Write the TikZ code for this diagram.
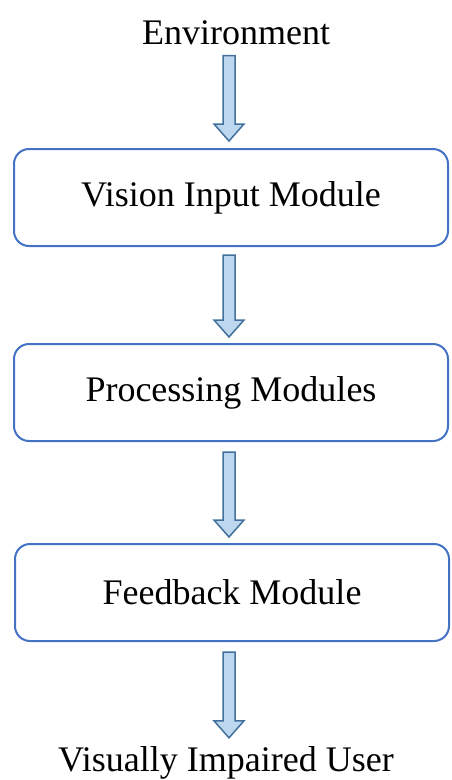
\documentclass[tikz,border=0pt]{standalone}
\usepackage{fontspec}
\setmainfont{Liberation Serif}
\usetikzlibrary{calc}

\definecolor{boxblue}{RGB}{68,114,196}
\definecolor{arrowfill}{RGB}{189,215,238}
\definecolor{arrowline}{RGB}{65,113,156}

% fat arrow going down from one node to the next: from, to, top gap, bottom gap
\newcommand{\blockarrow}[4]{%
	\coordinate (s) at ($(#1.south -| axis)+(0,#3)$);
	\coordinate (t) at ($(#2.north -| axis)+(0,-#4)$);
	\draw[flowarrow] ($(s)+(-6,0)$) -- ($(t)+(-6,-17)$) -- ($(t)+(-15,-17)$) -- (t)
		-- ($(t)+(15,-17)$) -- ($(t)+(6,-17)$) -- ($(s)+(6,0)$) -- cycle;}

\begin{document}
\begin{tikzpicture}[x=1pt, y=-1pt,
	module/.style={draw=boxblue, line width=2pt, rounded corners=15pt, fill=white,
		minimum width=434pt, minimum height=97pt, inner sep=0pt,
		font=\fontsize{36}{43}\selectfont},
	label/.style={anchor=base, inner sep=0pt, font=\fontsize{36}{43}\selectfont},
	flowarrow/.style={draw=arrowline, fill=arrowfill, line width=1.5pt, line join=miter}]
	\useasboundingbox (0,0) rectangle (451,780);
	\coordinate (axis) at (229,0);

	\node[label] (env) at (236,44) {Environment};
	\node[module] (vision) at (231,197.5) {Vision Input Module};
	\node[module] (proc) at (231,392.5) {Processing Modules};
	\node[module] (feed) at (232,592.5) {Feedback Module};
	\node[label] (user) at (226,771) {Visually Impaired User};

	% arrows between the stages
	\blockarrow{env}{vision}{11}{7}
	\blockarrow{vision}{proc}{8}{6}
	\blockarrow{proc}{feed}{10}{6}
	\blockarrow{feed}{user}{10}{8}
\end{tikzpicture}
\end{document}
